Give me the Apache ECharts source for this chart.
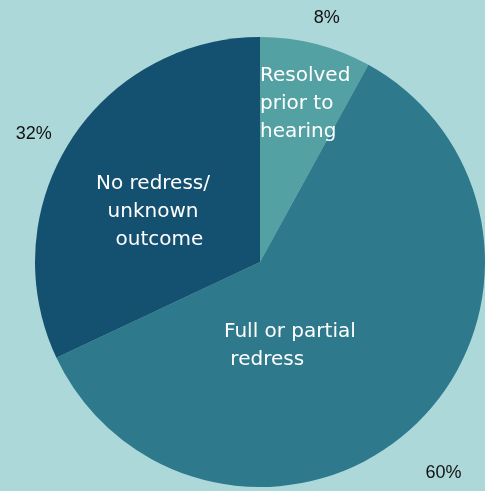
<!DOCTYPE html>
<html>
<head>
<meta charset="utf-8">
<script src="https://cdn.jsdelivr.net/npm/echarts@6/dist/echarts.min.js"></script>
<style>
  html, body { margin: 0; padding: 0; background: #acd8d9; }
  #chart { width: 485px; height: 491px; }
</style>
</head>
<body>
<div id="chart"></div>
<script>
const categories = ['Resolved\nprior to\nhearing', 'Full or partial\n redress', 'No redress/\nunknown\n  outcome'];
const shares = [8, 60, 32];
const percentLabels = ['8%', '60%', '32%'];

const colors = ['#53a1a2', '#2e798c', '#14506f'];
// where each slice name sits (label anchor)
const nameSpots = [
  {x: 260, y: 104, align: 'left'},
  {x: 224, y: 346, align: 'left'},
  {x: 153, y: 212, align: 'center'}
];

const chart = echarts.init(document.getElementById('chart'));
chart.setOption({
  backgroundColor: '#acd8d9',
  animation: false,
  series: [
    {
      type: 'pie',
      center: [260, 262],
      radius: [0, 225],
      startAngle: 90,
      clockwise: true,
      silent: true,
      data: shares.map((v, i) => ({name: categories[i], value: v, itemStyle: {color: colors[i]}})),
      label: {
        show: true,
        position: 'inside',
        formatter: '{b}',
        color: '#ffffff',
        fontFamily: 'DejaVu Sans',
        fontSize: 20,
        lineHeight: 28
      },
      labelLayout(p) {
        const s = nameSpots[p.dataIndex];
        return {x: s.x, y: s.y, align: s.align, verticalAlign: 'middle'};
      }
    },
    {
      // invisible ring just to place the percentages around the pie
      type: 'pie',
      center: [260, 262],
      radius: [238, 292],
      startAngle: 90,
      silent: true,
      itemStyle: {color: 'rgba(0,0,0,0)'},
      data: shares.map((v, i) => ({name: percentLabels[i], value: v})),
      label: {
        show: true,
        position: 'inside',
        formatter: '{b}',
        color: '#111111',
        fontFamily: 'Liberation Sans',
        fontSize: 18
      },
      labelLayout() {
        return {dy: 16};
      }
    }
  ]
});
</script>
</body>
</html>
